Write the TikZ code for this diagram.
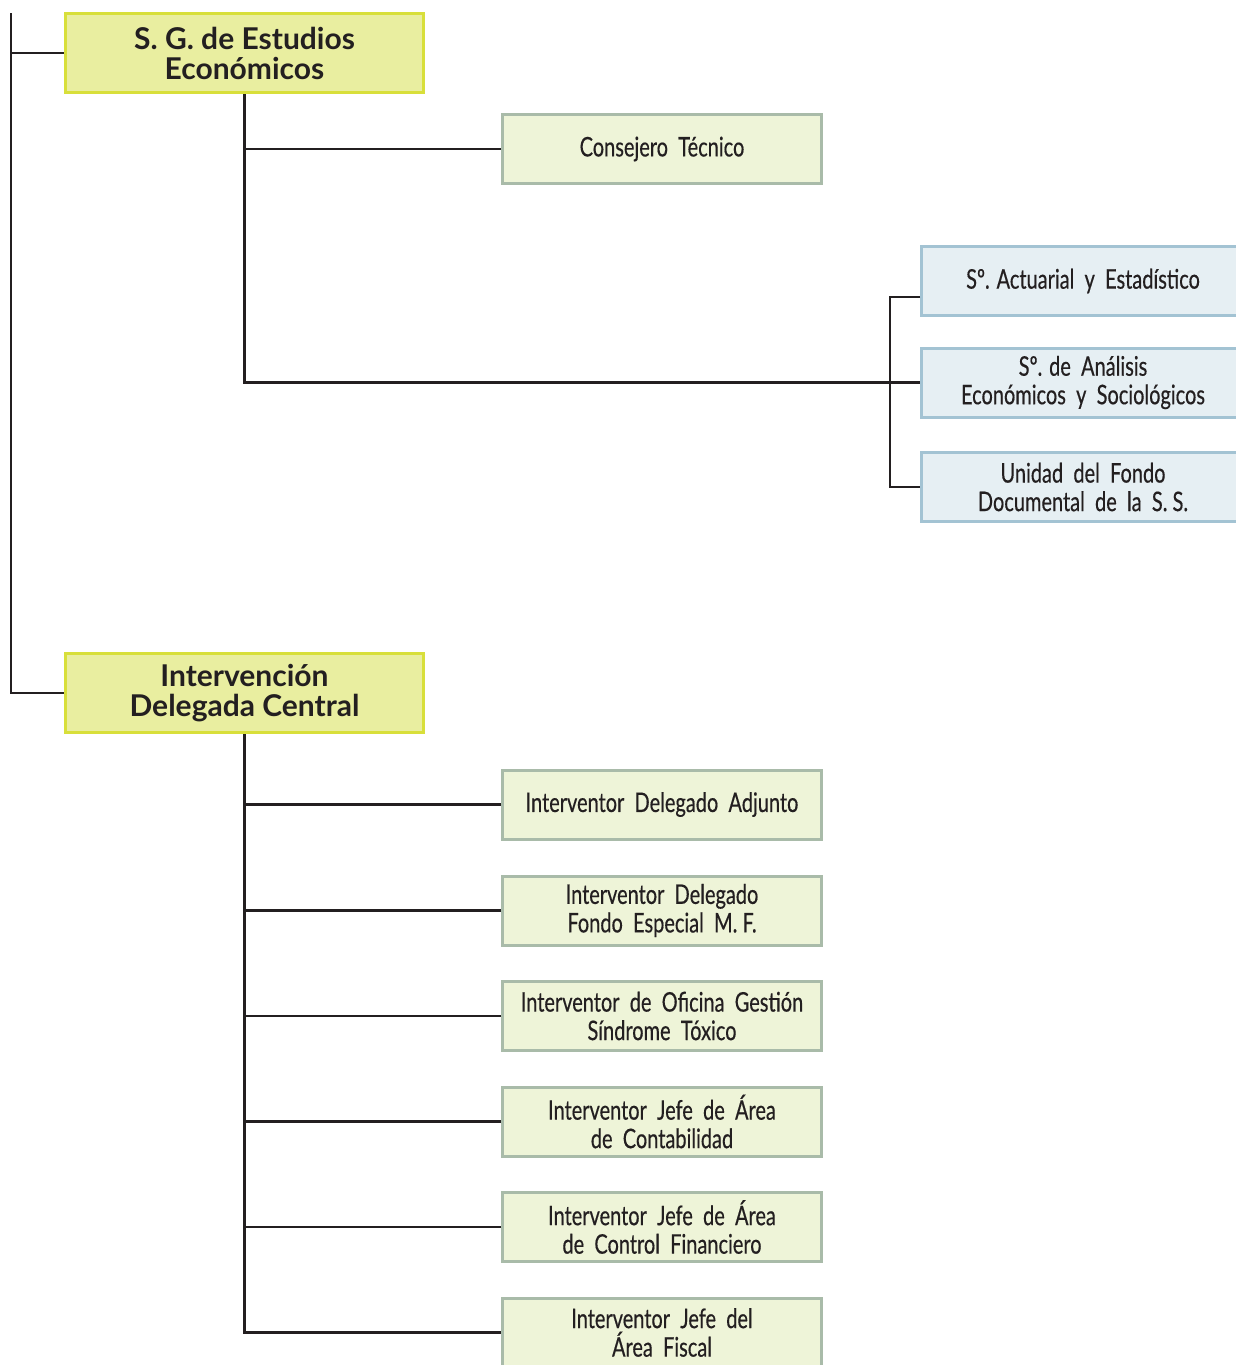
\documentclass[tikz,border=0pt]{standalone}
\usepackage{fontspec}
\setmainfont{Lato}
\newfontfamily\condf[FakeStretch=0.74,FakeBold=0.4]{Lato}
\newfontfamily\titlef[FakeStretch=1.0]{Lato}
\definecolor{ylfill}{HTML}{E9EEA0}
\definecolor{ylline}{HTML}{D8DF3A}
\definecolor{grfill}{HTML}{EEF4D8}
\definecolor{grline}{HTML}{A9BBA9}
\definecolor{blfill}{HTML}{E6EFF3}
\definecolor{blline}{HTML}{A3C3D3}
\definecolor{ink}{HTML}{231F20}
\begin{document}
\begin{tikzpicture}[x=1pt,y=-1pt,
  titlebox/.style={draw=ylline,fill=ylfill,line width=3pt,minimum width=358pt,minimum height=79pt,
    align=center,inner sep=0pt,text=ink,font=\titlef\bfseries\fontsize{30}{30}\selectfont},
  unitbox/.style={draw=grline,fill=grfill,line width=3pt,minimum width=319pt,minimum height=69pt,
    align=center,inner sep=0pt,text=ink,font=\condf\fontsize{27}{28.5}\selectfont},
  servbox/.style={draw=blline,fill=blfill,line width=3pt,minimum width=323pt,minimum height=69pt,
    align=center,inner sep=0pt,text=ink,font=\condf\fontsize{27}{28.5}\selectfont},
  link/.style={draw=ink,line width=2.4pt}]
\useasboundingbox (0,0) rectangle (1236,1365);
% title boxes
\node[titlebox] (sg) at (244.5,53) {S. G. de Estudios\\Económicos};
\node[titlebox] (idc) at (244.5,693) {Intervención\\Delegada Central};
% upper branch
\node[unitbox] (ct) at (662,149) {Consejero\ \ Técnico};
\node[servbox] (sa) at (1083,281) {Sº. Actuarial\ \ y\ \ Estadístico};
\node[servbox] (sb) at (1083,382.5) {Sº. de\ \ Análisis\\Económicos\ \ y\ \ Sociológicos};
\node[servbox] (sc) at (1083,487) {Unidad\ \ del\ \ Fondo\\Documental\ \ de\ \ la\ \ S. S.};
% lower branch
\node[unitbox] (i1) at (662,804.5) {Interventor\ \ Delegado\ \ Adjunto};
\node[unitbox] (i2) at (662,910.5) {Interventor\ \ Delegado\\Fondo\ \ Especial\ \ M. F.};
\node[unitbox] (i3) at (662,1016) {Interventor\ \ de\ \ Oficina\ \ Gestión\\Síndrome\ \ Tóxico};
\node[unitbox] (i4) at (662,1121.5) {Interventor\ \ Jefe\ \ de\ \ Área\\de\ \ Contabilidad};
\node[unitbox] (i5) at (662,1227) {Interventor\ \ Jefe\ \ de\ \ Área\\de\ \ Control\ \ Financiero};
\node[unitbox] (i6) at (662,1332.5) {Interventor\ \ Jefe\ \ del\\Área\ \ Fiscal};
% coordinates
\coordinate (top) at (11,13);
\coordinate (bus) at (890,382.5);
% main left spine
\draw[link] (top) |- (idc.west);
\draw[link] (11,53) -- (sg.west);
% upper connectors
\draw[link] (sg.south) |- (bus) -- (sb.west);
\draw[link] (ct.west) -- (ct.west -| sg.south);
\draw[link] ([yshift=-16pt]sa.west) -| (bus) |- (sc.west);
% lower connectors
\draw[link] (idc.south) |- (i6.west);
\foreach \n in {i1,i2,i3,i4,i5}
  \draw[link] (\n.west) -- (\n.west -| idc.south);
\end{tikzpicture}
\end{document}
